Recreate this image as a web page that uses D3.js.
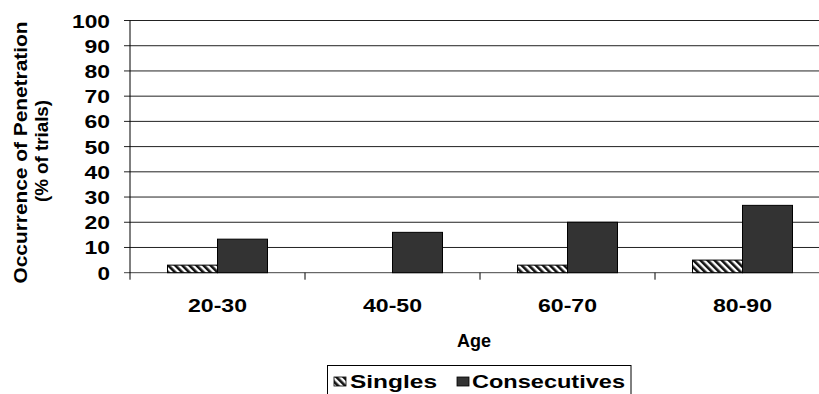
<!DOCTYPE html>
<html>
<head>
<meta charset="utf-8">
<script src="https://cdn.jsdelivr.net/npm/d3@7"></script>
<style>
  html, body { margin: 0; padding: 0; background: #fff; }
  svg { display: block; }
  text { font-family: "Liberation Sans", Arial, sans-serif; font-weight: bold; fill: #000; }
</style>
</head>
<body>
<svg id="chart" width="819" height="394"></svg>
<script>
// Age groups and penetration occurrence (% of trials)
const categories = ["20-30", "40-50", "60-70", "80-90"];
const seriesNames = ["Singles", "Consecutives"];
const singles = [3, 0, 3, 5];
const consecutives = [13.3, 16, 20, 26.7];
const yTicks = [0, 10, 20, 30, 40, 50, 60, 70, 80, 90, 100];

const svg = d3.select("#chart");
const defs = svg.append("defs");

// diagonal black/white hatch for the Singles series
const pat = defs.append("pattern")
  .attr("id", "hatch")
  .attr("patternUnits", "userSpaceOnUse")
  .attr("width", 5).attr("height", 5)
  .attr("patternTransform", "rotate(-45)");
pat.append("rect").attr("width", 5).attr("height", 5).attr("fill", "#fff");
pat.append("rect").attr("width", 2.6).attr("height", 5).attr("fill", "#111");

const plotLeft = 130, plotRight = 830, plotTop = 20.5, plotBottom = 272.7;

const x = d3.scaleBand().domain(categories).range([plotLeft, plotRight])
  .paddingInner(75 / 175).paddingOuter(75 / 350);
const xs = d3.scaleBand().domain(seriesNames).range([0, x.bandwidth()]);
const y = d3.scaleLinear().domain([0, 100]).range([plotBottom, plotTop]);

const fills = { Singles: "url(#hatch)", Consecutives: "#333333" };
const values = { Singles: singles, Consecutives: consecutives };

// horizontal gridlines with short ticks left of the axis
svg.append("g").selectAll("line").data(yTicks).join("line")
  .attr("x1", plotLeft - 6).attr("x2", plotRight)
  .attr("y1", d => y(d)).attr("y2", d => y(d))
  .attr("stroke", d => d === 0 ? "#444" : "#222")
  .attr("stroke-width", 1);

// y tick labels
const yLabelWidth = d => String(d).length === 3 ? 38 : (String(d).length === 2 ? 25.5 : 12.5);
svg.append("g").selectAll("text").data(yTicks).join("text")
  .attr("x", 110).attr("y", d => y(d) + 7)
  .attr("text-anchor", "end")
  .attr("font-size", 18)
  .attr("textLength", yLabelWidth)
  .attr("lengthAdjust", "spacingAndGlyphs")
  .text(d => d);

// bars
seriesNames.forEach(s => {
  svg.append("g").selectAll("rect").data(categories).join("rect")
    .attr("x", c => x(c) + xs(s))
    .attr("width", xs.bandwidth())
    .attr("y", (c, i) => y(values[s][i]))
    .attr("height", (c, i) => plotBottom - y(values[s][i]))
    .attr("fill", fills[s])
    .attr("stroke", "#000")
    .attr("stroke-width", 1)
    .attr("display", (c, i) => values[s][i] > 0 ? null : "none");
});

// vertical axis line
svg.append("line")
  .attr("x1", plotLeft).attr("x2", plotLeft)
  .attr("y1", plotTop).attr("y2", plotBottom + 7)
  .attr("stroke", "#000").attr("stroke-width", 1);

// category separator ticks below the baseline
const gap = x.step() - x.bandwidth();
svg.append("g").selectAll("line").data(categories.slice(1)).join("line")
  .attr("x1", c => x(c) - gap / 2)
  .attr("x2", c => x(c) - gap / 2)
  .attr("y1", plotBottom).attr("y2", plotBottom + 7)
  .attr("stroke", "#000").attr("stroke-width", 1);

// category labels
svg.append("g").selectAll("text").data(categories).join("text")
  .attr("x", c => x(c) + x.bandwidth() / 2)
  .attr("y", 311.5)
  .attr("text-anchor", "middle")
  .attr("font-size", 19)
  .attr("textLength", 59)
  .attr("lengthAdjust", "spacingAndGlyphs")
  .text(c => c);

// x axis title
svg.append("text")
  .attr("x", 474).attr("y", 347)
  .attr("text-anchor", "middle")
  .attr("font-size", 19)
  .attr("textLength", 34)
  .attr("lengthAdjust", "spacingAndGlyphs")
  .text("Age");

// y axis title (two lines)
svg.append("text")
  .attr("transform", "translate(27,152.5) rotate(-90)")
  .attr("text-anchor", "middle")
  .attr("font-size", 18.5)
  .attr("textLength", 262)
  .attr("lengthAdjust", "spacingAndGlyphs")
  .text("Occurrence of Penetration");
svg.append("text")
  .attr("transform", "translate(47.5,151) rotate(-90)")
  .attr("text-anchor", "middle")
  .attr("font-size", 18)
  .attr("textLength", 102)
  .attr("lengthAdjust", "spacingAndGlyphs")
  .text("(% of trials)");

// legend
const lg = svg.append("g");
lg.append("rect")
  .attr("x", 327.5).attr("y", 365.5)
  .attr("width", 303.5).attr("height", 40)
  .attr("fill", "#fff").attr("stroke", "#000").attr("stroke-width", 1);
const legendItems = [
  { name: "Singles", sx: 334, tx: 350, tw: 87 },
  { name: "Consecutives", sx: 457, tx: 472, tw: 153 }
];
legendItems.forEach(it => {
  lg.append("rect")
    .attr("x", it.sx).attr("y", 377)
    .attr("width", 12).attr("height", 9)
    .attr("fill", fills[it.name])
    .attr("stroke", "#000").attr("stroke-width", 0.8);
  lg.append("text")
    .attr("x", it.tx).attr("y", 387.5)
    .attr("font-size", 18.5)
    .attr("textLength", it.tw)
    .attr("lengthAdjust", "spacingAndGlyphs")
    .text(it.name);
});
</script>
</body>
</html>
